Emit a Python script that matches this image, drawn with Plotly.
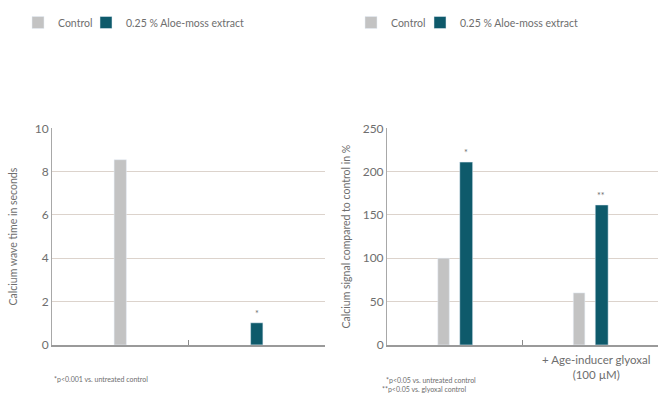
import plotly.graph_objects as go

# ---- data ----
left_categories = ["Control", "Aloe-moss"]
left_control = [8.55]
left_aloe = [1.02]
left_ticks = [0, 2, 4, 6, 8, 10]

right_categories = ["untreated", "glyoxal"]
right_ticktext = ["", "+ Age-inducer glyoxal<br>(100 µM)"]
right_control = [100, 60]
right_aloe = [211, 161.5]
right_ticks = [0, 50, 100, 150, 200, 250]

series_names = ["Control", "0.25 % Aloe-moss extract"]
left_stars = [("Aloe-moss", 1.02, "*")]
right_stars = [("untreated", 211, "*"), ("glyoxal", 161.5, "**")]

GRAY = "#c3c3c3"
TEAL = "#0e5a6b"
TXT = "#6e6e6e"
FONT = "Lato"

W, H = 659, 401

fig = go.Figure()

fig.add_trace(go.Bar(x=[left_categories[0]], y=left_control, name=series_names[0],
                     marker_color=GRAY, width=0.09, offset=-0.045,
                     xaxis="x", yaxis="y", legend="legend"))
fig.add_trace(go.Bar(x=[left_categories[1]], y=left_aloe, name=series_names[1],
                     marker_color=TEAL, width=0.09, offset=-0.045,
                     xaxis="x", yaxis="y", legend="legend2"))
fig.add_trace(go.Bar(x=right_categories, y=right_control, name=series_names[0],
                     marker_color=GRAY, width=0.085, offset=-0.125,
                     xaxis="x2", yaxis="y2", legend="legend3"))
fig.add_trace(go.Bar(x=right_categories, y=right_aloe, name=series_names[1],
                     marker_color=TEAL, width=0.095, offset=0.037,
                     xaxis="x2", yaxis="y2", legend="legend4"))

ydom = [1 - 350 / H, 1 - 125 / H]

common_y = dict(showgrid=True, gridcolor="#dcd3cc", gridwidth=1,
                showline=True, linecolor="#a8a8a8", linewidth=1,
                ticks="", tickfont=dict(family=FONT, size=12, color=TXT),
                zeroline=False, domain=ydom, fixedrange=True)
common_x = dict(type="category", showline=True, linecolor="#9a9a9a", linewidth=1.5,
                ticks="inside", tickson="boundaries", ticklen=5, tickcolor="#8a8a8a",
                showgrid=False, tickfont=dict(family=FONT, size=11.5, color=TXT))

legend_common = dict(orientation="h", y=1.0, xanchor="left", yanchor="top",
                     font=dict(family=FONT, size=10.5, color=TXT), itemwidth=30,
                     bgcolor="rgba(0,0,0,0)")

fig.update_layout(
    width=W, height=H,
    margin=dict(l=0, r=0, t=0, b=0),
    paper_bgcolor="white", plot_bgcolor="white",
    barmode="overlay",
    font=dict(family=FONT, color=TXT),
    xaxis=dict(common_x, domain=[52 / W, 325 / W], categoryarray=left_categories,
               categoryorder="array", showticklabels=False, anchor="y"),
    yaxis=dict(common_y, range=[0, 10], tickvals=left_ticks, anchor="x",
               title=dict(text="Calcium wave time in seconds",
                          font=dict(family=FONT, size=10.5, color=TXT), standoff=14)),
    xaxis2=dict(common_x, domain=[387 / W, 658 / W], categoryarray=right_categories,
                categoryorder="array", tickvals=right_categories, ticktext=right_ticktext,
                ticklabelshift=6, ticklabelstandoff=4, anchor="y2"),
    yaxis2=dict(common_y, range=[0, 250], tickvals=right_ticks, anchor="x2",
                title=dict(text="Calcium signal compared to control in %",
                           font=dict(family=FONT, size=10.5, color=TXT), standoff=10)),
    legend=dict(legend_common, x=18 / W),
    legend2=dict(legend_common, x=86 / W),
    legend3=dict(legend_common, x=351 / W),
    legend4=dict(legend_common, x=420 / W),
    showlegend=True,
)

annotations = []
for cat, val, s in left_stars:
    annotations.append(dict(x=cat, y=val, xref="x", yref="y", text=s, showarrow=False,
                            yanchor="bottom", yshift=2, font=dict(size=9, color=TXT)))
for cat, val, s in right_stars:
    annotations.append(dict(x=cat, y=val, xref="x2", yref="y2", text=s, showarrow=False,
                            xshift=11, yanchor="bottom", yshift=2,
                            font=dict(size=9, color=TXT)))

foot = dict(family=FONT, size=7, color=TXT)
annotations += [
    dict(x=52 / W, y=1 - 385 / H, xref="paper", yref="paper", xanchor="left",
         yanchor="middle", text="*p<0.001 vs. untreated control", showarrow=False, font=foot),
    dict(x=384 / W, y=1 - 386 / H, xref="paper", yref="paper", xanchor="left",
         yanchor="middle", text="*p<0.05 vs. untreated control", showarrow=False, font=foot),
    dict(x=380 / W, y=1 - 396 / H, xref="paper", yref="paper", xanchor="left",
         yanchor="middle", text="**p<0.05 vs. glyoxal control", showarrow=False, font=foot),
]
fig.update_layout(annotations=annotations)

fig.write_html("out.html")
